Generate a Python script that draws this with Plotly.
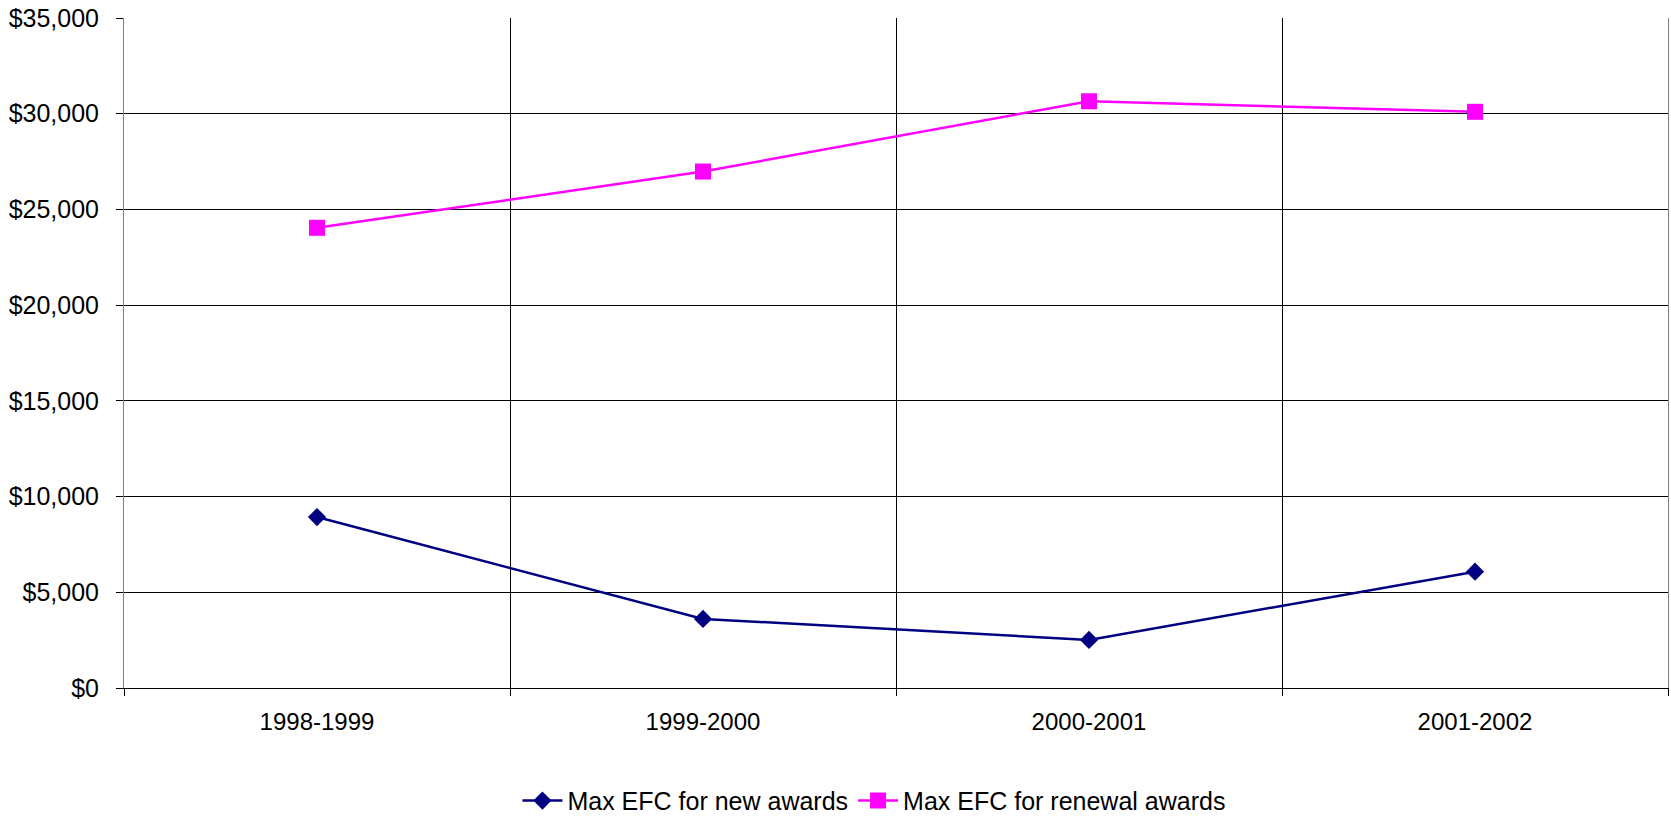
import plotly.graph_objects as go

# Award years and the maximum expected family contribution (EFC) for each
years = ["1998-1999", "1999-2000", "2000-2001", "2001-2002"]
max_efc_new = [8930, 3610, 2510, 6075]
max_efc_renewal = [24040, 26980, 30650, 30100]

FONT = "Liberation Sans, Arial, sans-serif"

fig = go.Figure()
fig.add_trace(go.Scatter(
    x=years, y=max_efc_new, name="Max EFC for new awards",
    mode="lines+markers",
    line=dict(color="#000080", width=2.5),
    marker=dict(symbol="diamond", size=14, color="#000080"),
))
fig.add_trace(go.Scatter(
    x=years, y=max_efc_renewal, name="Max EFC for renewal awards",
    mode="lines+markers",
    line=dict(color="#FF00FF", width=2.5),
    marker=dict(symbol="square", size=16, color="#FF00FF"),
))

fig.update_layout(
    width=1671, height=818,
    margin=dict(l=124, r=3, t=18, b=130, autoexpand=False),
    paper_bgcolor="white", plot_bgcolor="white",
    font=dict(family=FONT, size=24, color="black"),
    showlegend=True,
    legend=dict(
        orientation="h", xref="container", x=0.523, xanchor="center",
        yref="container", y=0.021, yanchor="middle",
        font=dict(size=25), itemwidth=40, tracegroupgap=0,
    ),
    xaxis=dict(
        type="category", tickson="boundaries",
        showgrid=True, gridcolor="#000000", gridwidth=1,
        showline=True, linecolor="#000000", linewidth=1,
        ticks="outside", ticklen=7, tickcolor="#000000",
        ticklabelstandoff=12, tickfont=dict(size=24),
        range=[-0.5, 3.5],
        zeroline=False,
    ),
    yaxis=dict(
        range=[0, 35000], dtick=5000, tickprefix="$", tickformat=",",
        showgrid=True, gridcolor="#000000", gridwidth=1,
        showline=True, linecolor="#808080", linewidth=1, mirror=True,
        ticks="outside", ticklen=7, tickcolor="#000000",
        ticklabelstandoff=12, tickfont=dict(size=25),
        zeroline=False,
    ),
)

fig.write_html("out.html")
